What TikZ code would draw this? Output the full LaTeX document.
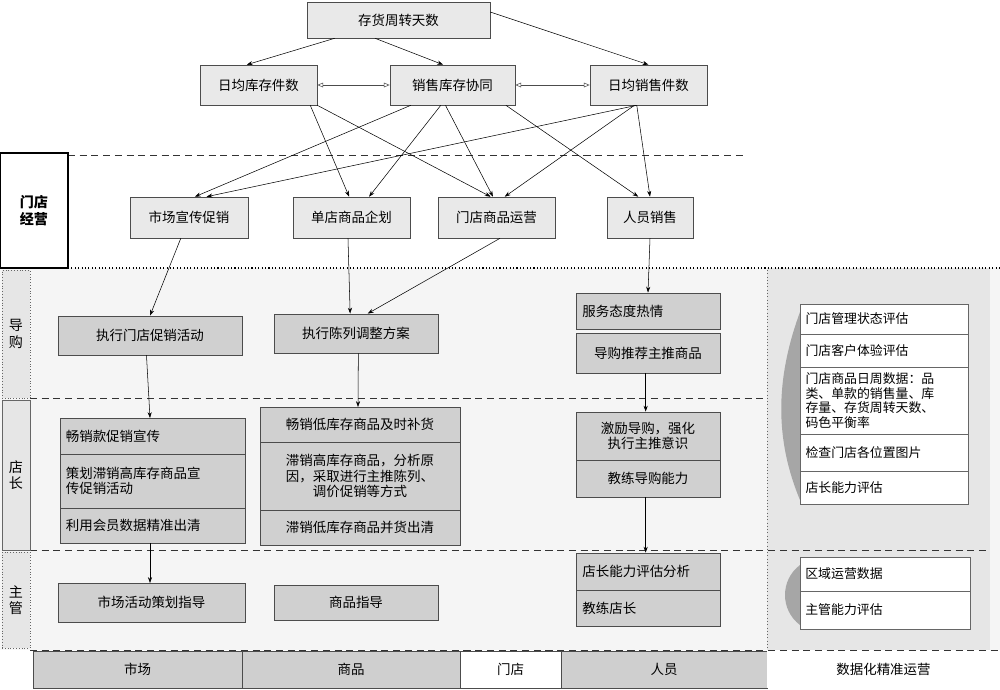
\documentclass[tikz,border=0pt]{standalone}
\usepackage{fontspec}
\setmainfont{Noto Sans CJK SC}
\usetikzlibrary{arrows.meta}
\definecolor{bgl}{HTML}{F5F5F5}
\definecolor{bgr}{HTML}{E6E6E6}
\definecolor{topf}{HTML}{E9E9E9}
\definecolor{midf}{HTML}{D0D0D0}
\definecolor{barf}{HTML}{CFCFCF}
\newcommand\bx[7]{\node[#6, minimum width={(#4-#2)*0.3mm}, minimum height={(#5-#3)*0.3mm}] (#1) at ({(#2+#4)/2},{(#3+#5)/2}) {#7};}
\begin{document}
\begin{tikzpicture}[x=0.3mm,y=-0.3mm, font=\fontsize{11.5pt}{13pt}\selectfont,
 b/.style={draw=black!70, line width=0.5pt, inner sep=1pt, align=center},
 tb/.style={b, fill=topf},
 mb/.style={b, fill=midf, line width=0.7pt},
 lb/.style={mb, align=left, inner xsep=4pt},
 wb/.style={b, fill=white, draw=black!60, align=left, inner xsep=3pt, font=\fontsize{11pt}{12.5pt}\selectfont},
 arr/.style={-{Stealth[length=5pt,width=3.5pt]}, line width=0.45pt},
 dbl/.style={{Triangle[open,length=5pt,width=4pt]}-{Triangle[open,length=5pt,width=4pt]}, line width=0.45pt, black!70},
 dsh/.style={dashed, dash pattern=on 6pt off 4pt, line width=0.6pt, black!80},
 lbl/.style={font=\fontsize{12pt}{14pt}\selectfont, align=center}]
\useasboundingbox (0,0) rectangle (1000,689);
\fill[white] (0,0) rectangle (1000,689);
% backgrounds
\fill[bgl] (0,268) rectangle (1000,650);
\fill[bgr] (767,268) rectangle (990,650);
\draw[dotted, line width=0.8pt, black!60] (767,270) -- (767,650);
\draw[dotted, line width=0.9pt] (68,268) -- (1000,268);
\draw[dsh] (68,155) -- (745,155);
\draw[dsh] (30,398) -- (765,398);
\draw[dsh] (30,550) -- (990,550);
\draw[dsh] (30,650) -- (1000,650);
% left labels
\node[draw, line width=1.5pt, fill=white, minimum width={68*0.3mm}, minimum height={115*0.3mm}, lbl] (md) at (34,210.5) {\textbf{门店}\\\textbf{经营}};
\bx{dg}{2}{270}{30}{398}{draw=black!60,dotted,fill=bgr,lbl}{导\\购}
\bx{dz}{2}{400}{30}{550}{draw=black!60,fill=bgr,lbl}{店\\长}
\bx{zg}{2}{552}{30}{648}{draw=black!60,dotted,fill=bgr,lbl}{主\\管}
% top
\bx{top}{307}{2}{490}{38}{tb}{存货周转天数}
\bx{kc}{200}{65}{317}{105}{tb}{日均库存件数}
\bx{xt}{390}{65}{515}{105}{tb}{销售库存协同}
\bx{xs}{590}{65}{707}{105}{tb}{日均销售件数}
\bx{sc}{130}{197}{248}{238}{tb}{市场宣传促销}
\bx{dd}{293}{197}{410}{238}{tb}{单店商品企划}
\bx{yy}{438}{197}{555}{238}{tb}{门店商品运营}
\bx{ry}{607}{197}{693}{238}{tb}{人员销售}
% guide row
\bx{cx}{58}{316}{242}{355}{mb}{执行门店促销活动}
\bx{cl}{274}{314}{438}{353}{mb}{执行陈列调整方案}
\bx{fw}{576}{293}{720}{329}{lb,text width=112pt}{服务态度热情}
\bx{tj}{576}{333}{720}{373}{mb}{导购推荐主推商品}
% store manager
\bx{l1}{60}{418}{245}{454}{lb,text width=148pt}{畅销款促销宣传}
\bx{l2}{60}{454}{245}{508}{lb,text width=148pt}{策划滞销高库存商品宣\\传促销活动}
\bx{l3}{60}{508}{245}{543}{lb,text width=148pt}{利用会员数据精准出清}
\bx{m1}{260}{407}{460}{442}{mb}{畅销低库存商品及时补货}
\bx{m2}{260}{442}{460}{510}{mb}{滞销高库存商品，分析原\\因，采取进行主推陈列、\\调价促销等方式}
\bx{m3}{260}{510}{460}{545}{mb}{滞销低库存商品并货出清}
\bx{jl}{576}{412}{720}{460}{mb}{激励导购，强化\\执行主推意识}
\bx{jd}{576}{460}{720}{497}{mb}{教练导购能力}
% supervisor
\bx{hd}{58}{583}{245}{622}{mb}{市场活动策划指导}
\bx{sp}{274}{585}{438}{620}{mb}{商品指导}
\bx{pg}{576}{553}{720}{590}{lb,text width=112pt}{店长能力评估分析}
\bx{jz}{576}{590}{720}{626}{lb,text width=112pt}{教练店长}
% right list
\fill[black!35] (800,312) .. controls (775,380) and (775,440) .. (800,500) -- cycle;
\fill[black!35] (800,565) .. controls (780,580) and (780,610) .. (800,625) -- cycle;
\bx{r1}{800}{304}{968}{334}{wb,text width=134pt}{门店管理状态评估}
\bx{r2}{800}{334}{968}{367}{wb,text width=134pt}{门店客户体验评估}
\bx{r3}{800}{367}{968}{434}{wb,text width=134pt}{门店商品日周数据：品\\类、单款的销售量、库\\存量、存货周转天数、\\码色平衡率}
\bx{r4}{800}{434}{968}{471}{wb,text width=134pt}{检查门店各位置图片}
\bx{r5}{800}{471}{968}{504}{wb,text width=134pt}{店长能力评估}
\bx{q1}{800}{557}{970}{591}{wb,text width=136pt}{区域运营数据}
\bx{q2}{800}{591}{970}{629}{wb,text width=136pt}{主管能力评估}
% bottom bar
\bx{f1}{33}{651}{242}{688}{b,fill=barf}{市场}
\bx{f2}{242}{651}{460}{688}{b,fill=barf}{商品}
\bx{f3}{460}{651}{561}{688}{b,fill=white}{门店}
\bx{f4}{561}{651}{767}{688}{b,fill=barf}{人员}
\bx{f5}{767}{651}{1000}{688}{b,fill=white,draw=none}{数据化精准运营}
% arrows
\draw[arr] (top.south west)++(28,0) -- ([xshift=-10pt]kc.north);
\draw[arr] ([xshift=-20pt]top.south) -- ([xshift=-8pt]xt.north);
\draw[arr] (top.east)++(0,-8) -- (xs.north);
\draw[dbl] (kc) -- (xt);
\draw[dbl] (xt) -- (xs);
\draw[arr] ([xshift=-6pt]kc.south east) -- ([xshift=-2pt]dd.north);
\draw[arr] (kc.south east) -- ([xshift=-5pt]yy.north);
\draw[arr] ([xshift=18pt]xt.south west) -- ([xshift=5pt]sc.north);
\draw[arr] ([xshift=-10pt]xt.south) -- ([xshift=15pt]dd.north);
\draw[arr] ([xshift=-6pt]xt.south) -- ([xshift=-3pt]yy.north);
\draw[arr] ([xshift=-8pt]xt.south east) -- ([xshift=-10pt]ry.north);
\draw[arr] ([xshift=-10pt]xs.south) -- ([xshift=15pt]sc.north);
\draw[arr] ([xshift=-12pt]xs.south) -- ([xshift=7pt]yy.north);
\draw[arr] ([xshift=-10pt]xs.south) -- ([xshift=0pt]ry.north);
\draw[arr] ([xshift=-7pt]sc.south) -- ([xshift=0pt]cx.north);
\draw[arr] ([xshift=-3pt]dd.south) -- ([xshift=-5pt]cl.north);
\draw[arr] ([xshift=3pt]yy.south) -- ([xshift=10pt]cl.north);
\draw[arr] (ry.south) -- (fw.north);
\draw[arr] ([xshift=-3pt]cx.south) -- (150,418);
\draw[arr] (150,543) -- (150,583);
\draw[arr] ([xshift=2pt]cl.south) -- (358,407);
\draw[arr] ([xshift=-2pt]tj.south) -- ([xshift=-2pt]jl.north);
\draw[arr] ([xshift=-2pt]jd.south) -- ([xshift=-2pt]pg.north);
\end{tikzpicture}
\end{document}
